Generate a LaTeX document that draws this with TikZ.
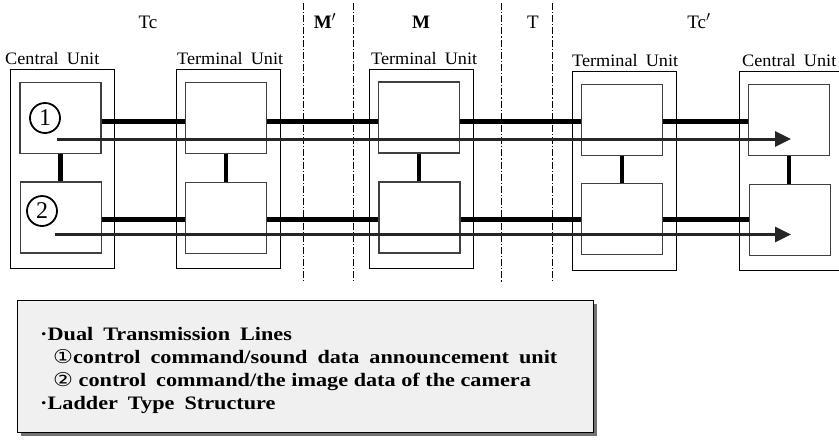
\documentclass[tikz,border=0pt]{standalone}
\usepackage{fontspec}
\setmainfont{Liberation Serif}
\setsansfont{Liberation Sans}
\newfontfamily\dejavu{DejaVu Sans}
\usetikzlibrary{arrows.meta}
\newcommand{\wsp}{\hspace{0.45em}}
\begin{document}
\begin{tikzpicture}[x=1pt,y=-1pt,
  outerbox/.style={draw=black, line width=0.9pt, minimum width=104pt, minimum height=199pt, inner sep=0pt},
  innerbox/.style={draw=black!75, line width=1.5pt, fill=white, minimum width=81pt, minimum height=71pt, inner sep=0pt},
  unitlabel/.style={anchor=base west, inner sep=0pt, font=\fontsize{17.5}{19}\selectfont},
  toplabel/.style={anchor=base, inner sep=0pt, font=\fontsize{19}{21}\selectfont},
  zoneline/.style={draw=black, line width=0.8pt, dash pattern=on 7pt off 2pt on 1.2pt off 2pt},
  lineone/.style={line width=4.3pt, black},
  linetwo/.style={line width=3pt, black!85, -{Triangle[length=16pt,width=15pt]}},
  ladder/.style={line width=4.3pt, black},
  circnum/.style={circle, draw=black, line width=1.8pt, minimum size=30pt, inner sep=0pt, font=\fontsize{24}{24}\selectfont},
  legendtext/.style={anchor=base west, inner sep=0pt, font=\bfseries\fontsize{19}{21}\selectfont}
]
\clip (0,0) rectangle (839,440);
\fill[white] (0,0) rectangle (839,440);

% zone separators
\coordinate (za1) at (303,3); \coordinate (zb1) at (303,281);
\coordinate (za2) at (353,3); \coordinate (zb2) at (353,281);
\coordinate (za3) at (501,3); \coordinate (zb3) at (501,283);
\coordinate (za4) at (552,3); \coordinate (zb4) at (552,281);
\draw[zoneline] (za1) -- (zb1);
\draw[zoneline] (za2) -- (zb2);
\draw[zoneline] (za3) -- (zb3);
\draw[zoneline] (za4) -- (zb4);

% top labels
\node[toplabel] (tTc) at (148,28) {Tc};
\node[toplabel, font=\bfseries\fontsize{19}{21}\selectfont] (tMp) at (325,28) {M$'$};
\node[toplabel, font=\bfseries\fontsize{19}{21}\selectfont] (tM) at (421,28) {M};
\node[toplabel] (tT) at (533,28) {T};
\node[toplabel] (tTcp) at (699,28) {Tc$'$};

% outer boxes
\node[outerbox] (cuL) at (62,168.5) {};
\node[outerbox] (tuA) at (228,168.5) {};
\node[outerbox] (tuM) at (421,168.5) {};
\node[outerbox] (tuB) at (624,170.5) {};
\node[outerbox] (cuR) at (791,170.5) {};

% unit labels
\node[unitlabel] (lcuL) at (5,64) {\scalebox{1.04}[1]{Central\wsp Unit}};
\node[unitlabel] (ltuA) at (177,64) {\scalebox{1.04}[1]{Terminal\wsp Unit}};
\node[unitlabel] (ltuM) at (371,64) {\scalebox{1.04}[1]{Terminal\wsp Unit}};
\node[unitlabel] (ltuB) at (572,66) {\scalebox{1.04}[1]{Terminal\wsp Unit}};
\node[unitlabel] (lcuR) at (742,66) {\scalebox{1.04}[1]{Central\wsp Unit}};

% inner boxes
\node[innerbox] (cuLa) at (60.5,118) {};
\node[innerbox] (cuLb) at (61,217.5) {};
\node[innerbox] (tuAa) at (226,118) {};
\node[innerbox] (tuAb) at (226,218) {};
\node[innerbox] (tuMa) at (419,117.5) {};
\node[innerbox] (tuMb) at (419.5,217.5) {};
\node[innerbox] (tuBa) at (622,120) {};
\node[innerbox] (tuBb) at (622,219) {};
\node[innerbox] (cuRa) at (789,120) {};
\node[innerbox] (cuRb) at (790,220) {};

% ladder rungs
\draw[ladder] (cuLa.south) -- (cuLa.south |- cuLb.north);
\draw[ladder] (tuAa.south) -- (tuAa.south |- tuAb.north);
\draw[ladder] (tuMa.south) -- (tuMa.south |- tuMb.north);
\draw[ladder] (tuBa.south) -- (tuBa.south |- tuBb.north);
\draw[ladder] (cuRa.south) -- (cuRa.south |- cuRb.north);

% circled numbers
\node[circnum] (n1) at (45,118) {1};
\node[circnum] (n2) at (42,211) {2};

% line heights
\coordinate (ya) at (0,121.5);
\coordinate (yb) at (0,219.5);

% line 1 (thick segments), upper
\draw[lineone] (cuLa.east |- ya) -- (tuAa.west |- ya);
\draw[lineone] (tuAa.east |- ya) -- (tuMa.west |- ya);
\draw[lineone] (tuMa.east |- ya) -- (tuBa.west |- ya);
\draw[lineone] (tuBa.east |- ya) -- (cuRa.west |- ya);
% line 1 (thick segments), lower
\draw[lineone] (cuLb.east |- yb) -- (tuAb.west |- yb);
\draw[lineone] (tuAb.east |- yb) -- (tuMb.west |- yb);
\draw[lineone] (tuMb.east |- yb) -- (tuBb.west |- yb);
\draw[lineone] (tuBb.east |- yb) -- (cuRb.west |- yb);

% line 2 (through, with arrows)
\coordinate (sa) at (57,139);
\coordinate (ea) at (791,139);
\coordinate (sb) at (55,234.5);
\coordinate (eb) at (791,234.5);
\draw[linetwo] (sa) -- (ea);
\draw[linetwo] (sb) -- (eb);

% legend
\fill[black!55] (21,304) rectangle (597,436);
\node[draw=black, line width=0.8pt, fill=black!6, anchor=north west, minimum width=576pt, minimum height=132pt, inner sep=0pt] (legend) at (17,300) {};
\node[legendtext] (lg1) at (40,340) {\scalebox{1.17}[1]{·Dual\wsp Transmission\wsp Lines}};
\node[legendtext] (lg2) at (53,363) {\scalebox{1.17}[1]{{\dejavu\mdseries ①}control\wsp command/sound\wsp data\wsp announcement\wsp unit}};
\node[legendtext] (lg3) at (53,386) {\scalebox{1.17}[1]{{\dejavu\mdseries ②} control\wsp command/the image data of the camera}};
\node[legendtext] (lg4) at (40,409) {\scalebox{1.17}[1]{·Ladder\wsp Type\wsp Structure}};
\end{tikzpicture}
\end{document}
